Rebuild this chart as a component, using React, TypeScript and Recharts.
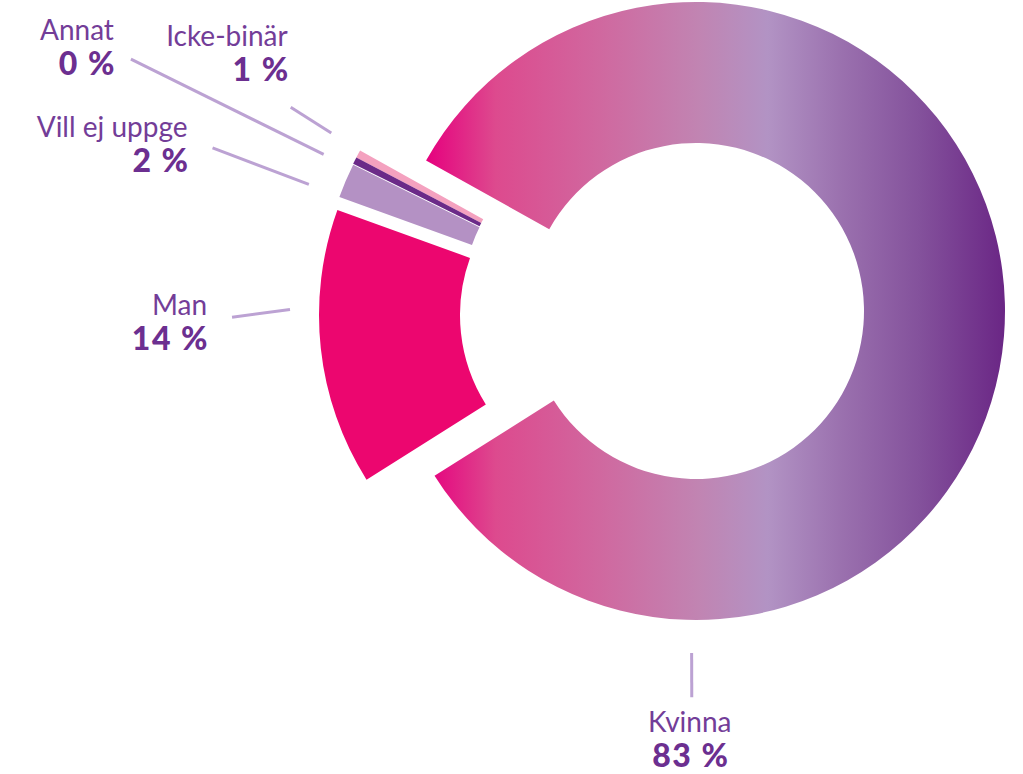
import { PieChart, Pie, Cell } from 'recharts'

const categories = ['Kvinna', 'Icke-binär', 'Annat', 'Vill ej uppge', 'Man']
const shares = [82.6, 0.4, 0.36, 1.8, 14.4]
const pctLabels = ['83 %', '1 %', '0 %', '2 %', '14 %']

const data = categories.map((name, i) => ({ name, value: shares[i], pct: pctLabels[i] }))

const colors = ['url(#kvinnaGrad)', '#F4A1BF', '#6B2A88', '#B491C4', '#EC066F']

const CX = 654
const CY = 312
const INNER = 168
const OUTER = 309
const START = 212.2

// each slice is pulled a little away from the ring centre
const explode = [
  { dx: 42, dy: -1 },
  { dx: -24, dy: -11 },
  { dx: -24, dy: -11 },
  { dx: -24, dy: -10 },
  { dx: -26, dy: 3 },
]

// leader line ends (angle/radius from the ring centre) and text offset from the outer end
const labelLayout = [
  { a1: 276.3, r1: 343, a2: 275.6, r2: 387, anchor: 'middle', tx: -2, ty: 35 },
  { a1: 151, r1: 369, a2: 150.6, r2: 417, anchor: 'end', tx: -3, ty: -61 },
  { a1: 154.5, r1: 366, a2: 154.2, r2: 581, anchor: 'end', tx: -17, ty: -19 },
  { a1: 159.7, r1: 368, a2: 159.6, r2: 471, anchor: 'end', tx: -25, ty: -11 },
  { a1: 179.6, r1: 364, a2: 180.7, r2: 422, anchor: 'end', tx: -25, ty: -2 },
]

const polar = (r: number, angle: number) => ({
  x: CX + r * Math.cos((-angle * Math.PI) / 180),
  y: CY + r * Math.sin((-angle * Math.PI) / 180),
})

const renderLabel = (props: any) => {
  const i = props.index
  const l = labelLayout[i]
  const p1 = polar(l.r1, l.a1)
  const p2 = polar(l.r2, l.a2)
  const tx = p2.x + l.tx
  const ty = p2.y + l.ty
  return (
    <g key={`label-${i}`}>
      <line x1={p1.x} y1={p1.y} x2={p2.x} y2={p2.y} stroke="#BCA2D3" strokeWidth={3} />
      <text x={tx} y={ty} textAnchor={l.anchor} fontFamily="Lato" fontSize={28} fill="#733D98">
        {data[i].name}
      </text>
      <text
        x={tx + (l.anchor === 'end' ? 2 : 1)}
        y={ty + 35}
        textAnchor={l.anchor}
        fontFamily="Lato"
        fontSize={32}
        fontWeight={900}
        letterSpacing={1.5}
        fill="#6C2F90"
      >
        {data[i].pct}
      </text>
    </g>
  )
}

export default function App() {
  return (
    <div style={{ position: 'absolute', left: 0, top: 0, background: '#fff' }}>
      <PieChart width={1023} height={774} margin={{ top: 0, right: 0, bottom: 0, left: 0 }}>
        <defs>
          <linearGradient id="kvinnaGrad" x1="0" y1="0" x2="1" y2="0">
            <stop offset="0" stopColor="#E6007E" />
            <stop offset="0.12" stopColor="#DD4A8E" />
            <stop offset="0.3" stopColor="#D0689F" />
            <stop offset="0.47" stopColor="#C184B2" />
            <stop offset="0.59" stopColor="#B293C4" />
            <stop offset="0.72" stopColor="#9A70AE" />
            <stop offset="0.85" stopColor="#84529C" />
            <stop offset="1" stopColor="#6A2685" />
          </linearGradient>
        </defs>
        {data.map((_, k) => (
          <Pie
            key={k}
            data={data}
            dataKey="value"
            nameKey="name"
            cx={CX + explode[k].dx}
            cy={CY + explode[k].dy}
            innerRadius={INNER}
            outerRadius={OUTER}
            startAngle={START}
            endAngle={START + 360}
            stroke="none"
            labelLine={false}
            label={(p: any) => (p.index === k ? renderLabel(p) : null)}
            isAnimationActive={false}
          >
            {data.map((d, i) => (
              <Cell key={d.name} fill={i === k ? colors[i] : 'none'} />
            ))}
          </Pie>
        ))}
      </PieChart>
    </div>
  )
}
